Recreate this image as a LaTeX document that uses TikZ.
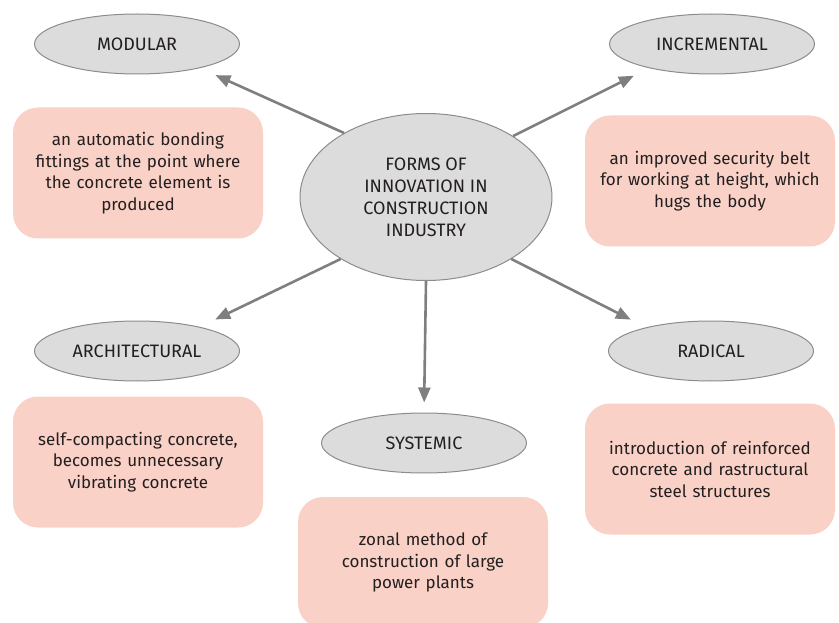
\documentclass[tikz,border=0pt]{standalone}
\usepackage{fontspec}
\setmainfont{Fira Sans}
\usetikzlibrary{shapes.geometric}
\usetikzlibrary{arrows.meta}

\definecolor{formgray}{HTML}{DCDCDD}
\definecolor{formedge}{HTML}{8C8C8E}
\definecolor{examplepink}{HTML}{F9D1C6}
\definecolor{arrowgray}{HTML}{7F7F81}
\definecolor{inktext}{HTML}{231F20}

\begin{document}
\begin{tikzpicture}[x=1pt, y=-1pt,
    every node/.style={text=inktext, font=\fontsize{17}{21.5}\selectfont},
    form/.style={ellipse, draw=formedge, line width=1pt, fill=formgray,
        minimum width=205pt, minimum height=60pt, inner sep=0pt,
        font=\fontsize{18}{22}\selectfont},
    example/.style={rounded corners=25pt, fill=examplepink, minimum width=250pt,
        minimum height=131pt, text width=240pt, align=center},
    spoke/.style={draw=arrowgray, line width=2.6pt,
        -{Triangle[length=15pt, width=12pt]}}]
        \clip (0,0) rectangle (839,623);

        % hub and the five forms
        \node[form, minimum width=252pt, minimum height=167pt, align=center] (forms)
            at (426,197) {FORMS OF\\INNOVATION IN\\CONSTRUCTION\\INDUSTRY};
        \node[form] (modular) at (137,44) {MODULAR};
        \node[form] (incremental) at (712,44) {INCREMENTAL};
        \node[form] (architectural) at (137,351) {ARCHITECTURAL};
        \node[form] (radical) at (711,351) {RADICAL};
        \node[form] (systemic) at (424,443) {SYSTEMIC};

        % examples
        \node[example] (modularEx) at (138,173)
            {an automatic bonding\\fittings at the point where\\the concrete element is\\produced};
        \node[example] (incrementalEx) at (710,181)
            {an improved security belt\\for working at height, which\\hugs the body};
        \node[example] (architecturalEx) at (138,462)
            {self-compacting concrete,\\becomes unnecessary\\vibrating concrete};
        \node[example] (radicalEx) at (710,469)
            {introduction of reinforced\\concrete and rastructural\\steel structures};
        \node[example] (systemicEx) at (423,562.5)
            {zonal method of\\construction of large\\power plants};

        \draw[spoke, shorten >=17pt] (forms.142) -- (modular.-21);
        \draw[spoke, shorten >=17pt] (forms.35) -- (incremental.201);
        \draw[spoke, shorten >=17pt] (forms.216) -- (architectural.21);
        \draw[spoke, shorten >=17pt] (forms.-36) -- (radical.160);
        \draw[spoke, shorten >=10pt] (forms.south) -- (systemic.north);
    \end{tikzpicture}
\end{document}
